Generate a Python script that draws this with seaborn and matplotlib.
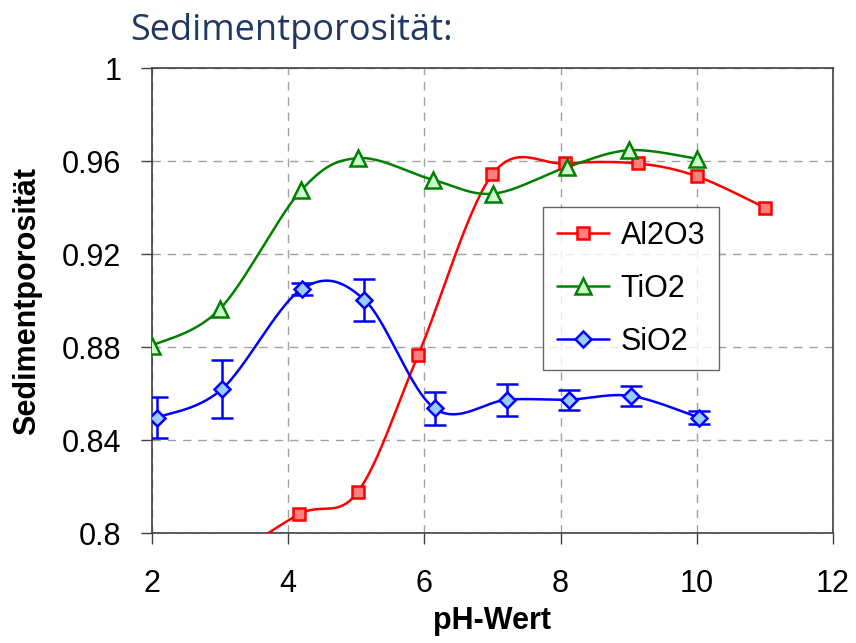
import numpy as np
import pandas as pd
import seaborn as sns
import matplotlib.pyplot as plt

# Daten
ph_al = [3.0, 4.16, 5.02, 5.91, 7.0, 8.06, 9.13, 10.0, 11.0]
por_al = [0.786, 0.8081, 0.8176, 0.8767, 0.9544, 0.959, 0.959, 0.9535, 0.940]

ph_ti = [2.0, 3.0, 4.19, 5.03, 6.12, 7.01, 8.09, 9.01, 10.01]
por_ti = [0.8806, 0.8965, 0.9474, 0.9613, 0.952, 0.946, 0.9574, 0.9647, 0.961]

ph_si = [2.08, 3.03, 4.2, 5.12, 6.15, 7.22, 8.12, 9.03, 10.03]
por_si = [0.8497, 0.862, 0.905, 0.9003, 0.8536, 0.8574, 0.8574, 0.859, 0.8497]
err_si = [0.009, 0.0126, 0.0024, 0.009, 0.007, 0.0069, 0.0043, 0.0043, 0.0028]


def glatt(x, y, n=30):
    # Excel-aehnliche geglaettete Linie (Bezier durch alle Punkte)
    p = np.column_stack([x, y]).astype(float)
    p = np.vstack([p[0], p, p[-1]])
    t = np.linspace(0, 1, n)[:, None]
    out = []
    for i in range(1, len(p) - 2):
        p0, p1, p2, p3 = p[i - 1], p[i], p[i + 1], p[i + 2]
        c1 = p1 + (p2 - p0) / 6
        c2 = p2 - (p3 - p1) / 6
        seg = ((1 - t) ** 3) * p1 + 3 * ((1 - t) ** 2) * t * c1 + 3 * (1 - t) * t ** 2 * c2 + t ** 3 * p2
        out.append(seg)
    out = np.vstack(out)
    return out[:, 0], out[:, 1]


sns.set_style("white")
plt.rcParams['font.family'] = ['Liberation Sans', 'DejaVu Sans']

fig = plt.figure(figsize=(8.56, 6.43), dpi=100)
ax = fig.add_axes([0.1776, 0.171, 0.7955, 0.723])

serien = [
    ("Al2O3", ph_al, por_al, "#FF0000", "#FF8080", "s", 9),
    ("TiO2", ph_ti, por_ti, "#008000", "#CCFFCC", "^", 11),
    ("SiO2", ph_si, por_si, "#0000FF", "#99CCFF", "D", 8),
]

for name, x, y, col, fc, mk, ms in serien:
    sx, sy = glatt(x, y)
    kurve = pd.DataFrame({"pH": sx, "por": sy})
    sns.lineplot(data=kurve, x="pH", y="por", sort=False, color=col, lw=1.8, ax=ax, zorder=3)
    if name == "SiO2":
        ax.errorbar(x, y, yerr=err_si, fmt="none", ecolor=col, elinewidth=1.8,
                    capsize=8, capthick=1.8, zorder=4)
    ax.plot(x, y, ls="none", marker=mk, ms=ms, mfc=fc, mec=col, mew=1.8, zorder=5)

ax.set_xlim(2, 12)
ax.set_ylim(0.8, 1.0)
ax.set_xticks([2, 4, 6, 8, 10, 12])
ax.set_yticks([0.8, 0.84, 0.88, 0.92, 0.96, 1.0])
ax.set_yticklabels(["0.8", "0.84", "0.88", "0.92", "0.96", "1"])
ax.grid(True, ls=(0, (6, 5)), color="#A0A0A0", lw=1)
ax.tick_params(axis="both", direction="out", length=8, width=1, color="#404040",
               labelsize=22, labelcolor="black", bottom=True, left=True)
ax.tick_params(axis="x", pad=18)
ax.tick_params(axis="y", pad=14)
for s in ax.spines.values():
    s.set_color("#404040")
    s.set_linewidth(1.2)

ax.set_xlabel("pH-Wert", fontsize=22, fontweight="bold", labelpad=5, color="black")
ax.set_ylabel("Sedimentporosität", fontsize=22, fontweight="bold", labelpad=14, color="black")

leg_handles = [plt.Line2D([], [], color=c, lw=1.8, marker=m, ms=ms, mfc=fc, mec=c, mew=1.8)
               for _, _, _, c, fc, m, ms in serien]
leg = ax.legend(leg_handles, [s[0] for s in serien], loc="upper left",
                bbox_to_anchor=(0.574, 0.701), borderaxespad=0, fontsize=22,
                frameon=True, fancybox=False, edgecolor="#404040", handlelength=1.7,
                handletextpad=0.4, labelspacing=0.75, borderpad=0.45)
leg.get_frame().set_linewidth(1)
for t in leg.get_texts():
    t.set_color("black")

fig.text(130 / 856, 1 - 40 / 643, "Sedimentporosität:", fontsize=26, color="#1F3864",
         family=["Open Sans", "DejaVu Sans"], va="baseline", ha="left")

plt.savefig("out.png", dpi=100)
